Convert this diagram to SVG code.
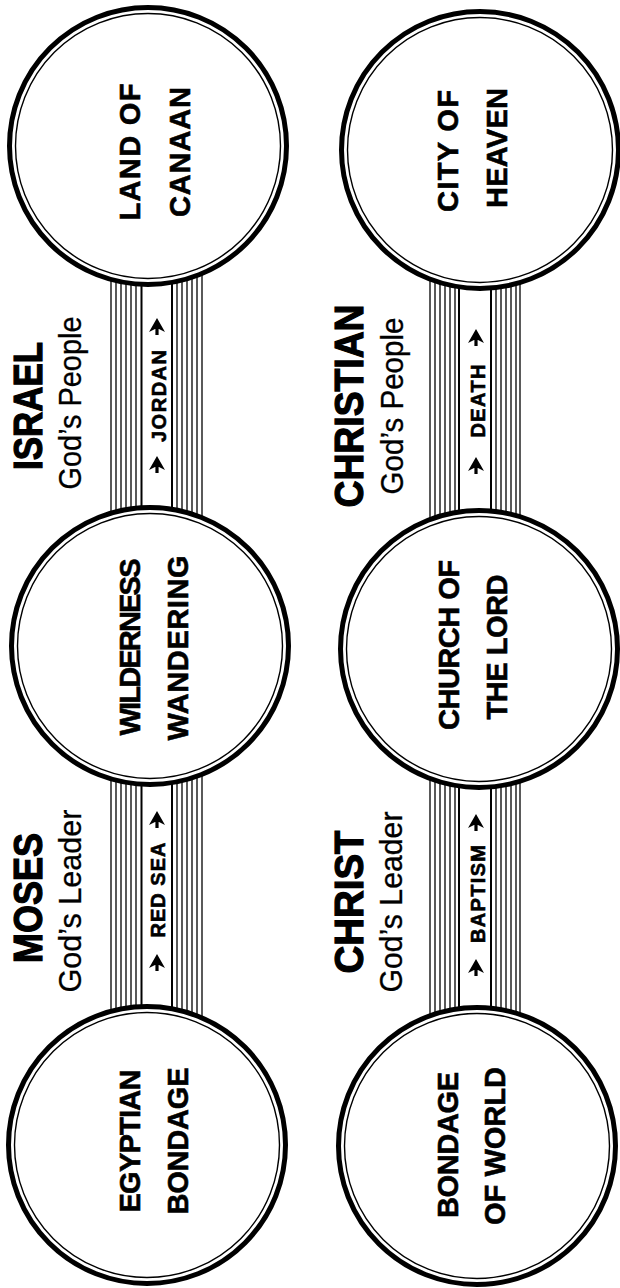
<svg xmlns="http://www.w3.org/2000/svg" width="620" height="1288" viewBox="0 0 620 1288">
<style>
.bg{fill:#fff}
.outer{fill:#fff;stroke:#000;stroke-width:5}
.inner{fill:none;stroke:#000;stroke-width:1.4}
.ln{stroke:#000;stroke-width:1.3}
.edge{stroke:#000;stroke-width:2}
.ct{font-family:"Liberation Sans",Arial,sans-serif;font-weight:bold;font-size:29px;fill:#000;stroke:#000;stroke-width:0.6;text-anchor:middle}
.hd{font-family:"Liberation Sans",Arial,sans-serif;font-weight:bold;font-size:40px;fill:#000;stroke:#000;stroke-width:1.2;text-anchor:middle}
.sub{font-family:"Liberation Sans",Arial,sans-serif;font-weight:normal;font-size:31px;fill:#000;stroke:#000;stroke-width:0.3;text-anchor:middle}
.bl{font-family:"Liberation Sans",Arial,sans-serif;font-weight:bold;font-size:20px;fill:#000;stroke:#000;stroke-width:0.6;text-anchor:middle}
</style>
<defs>
<path id="arr" d="M0,-9 L8,5 L0,1 L-8,5 Z M-1.6,0 H1.6 V8 H-1.6 Z" fill="#000"/>
</defs>
<rect class="bg" x="0" y="0" width="620" height="1288"/>

<g id="connectors">
  <g id="bundle-left">
    <line class="ln" x1="111" y1="220" x2="111" y2="1080"/>
    <line class="ln" x1="116" y1="220" x2="116" y2="1080"/>
    <line class="ln" x1="121" y1="220" x2="121" y2="1080"/>
    <line class="ln" x1="126" y1="220" x2="126" y2="1080"/>
    <line class="ln" x1="131" y1="220" x2="131" y2="1080"/>
    <line class="ln" x1="136" y1="220" x2="136" y2="1080"/>
    <line class="edge" x1="141.5" y1="220" x2="141.5" y2="1080"/>
    <line class="edge" x1="172" y1="220" x2="172" y2="1080"/>
    <line class="ln" x1="177" y1="220" x2="177" y2="1080"/>
    <line class="ln" x1="182" y1="220" x2="182" y2="1080"/>
    <line class="ln" x1="187" y1="220" x2="187" y2="1080"/>
    <line class="ln" x1="192" y1="220" x2="192" y2="1080"/>
    <line class="ln" x1="197" y1="220" x2="197" y2="1080"/>
    <line class="ln" x1="202" y1="220" x2="202" y2="1080"/>
  </g>
  <g id="bundle-right">
    <line class="ln" x1="430" y1="220" x2="430" y2="1080"/>
    <line class="ln" x1="435" y1="220" x2="435" y2="1080"/>
    <line class="ln" x1="440" y1="220" x2="440" y2="1080"/>
    <line class="ln" x1="445" y1="220" x2="445" y2="1080"/>
    <line class="ln" x1="450" y1="220" x2="450" y2="1080"/>
    <line class="ln" x1="455" y1="220" x2="455" y2="1080"/>
    <line class="edge" x1="459" y1="220" x2="459" y2="1080"/>
    <line class="edge" x1="491" y1="220" x2="491" y2="1080"/>
    <line class="ln" x1="496" y1="220" x2="496" y2="1080"/>
    <line class="ln" x1="501" y1="220" x2="501" y2="1080"/>
    <line class="ln" x1="506" y1="220" x2="506" y2="1080"/>
    <line class="ln" x1="511" y1="220" x2="511" y2="1080"/>
    <line class="ln" x1="516" y1="220" x2="516" y2="1080"/>
    <line class="ln" x1="520" y1="220" x2="520" y2="1080"/>
  </g>
  <g id="label-redsea">
    <use href="#arr" x="157" y="820"/>
    <text class="bl" transform="translate(165,890) rotate(-90)" textLength="95" lengthAdjust="spacing">RED SEA</text>
    <use href="#arr" x="157" y="963"/>
  </g>
  <g id="label-jordan">
    <use href="#arr" x="157" y="327"/>
    <text class="bl" transform="translate(166,396) rotate(-90)" textLength="92" lengthAdjust="spacing">JORDAN</text>
    <use href="#arr" x="157" y="465"/>
  </g>
  <g id="label-baptism">
    <use href="#arr" x="476" y="823"/>
    <text class="bl" transform="translate(485,894) rotate(-90)" textLength="98" lengthAdjust="spacing">BAPTISM</text>
    <use href="#arr" x="476" y="968"/>
  </g>
  <g id="label-death">
    <use href="#arr" x="476" y="338"/>
    <text class="bl" transform="translate(485,401) rotate(-90)" textLength="73" lengthAdjust="spacing">DEATH</text>
    <use href="#arr" x="476" y="466"/>
  </g>
</g>

<g id="node-canaan">
  <circle class="outer" cx="148" cy="146" r="138.5"/>
  <circle class="inner" cx="148" cy="146" r="132.5"/>
  <text class="ct" transform="translate(140,152) rotate(-90)" textLength="137" lengthAdjust="spacing">LAND OF</text>
  <text class="ct" transform="translate(190,152) rotate(-90)" textLength="130" lengthAdjust="spacing">CANAAN</text>
</g>
<g id="node-wilderness">
  <circle class="outer" cx="150" cy="646" r="138.5"/>
  <circle class="inner" cx="150" cy="646" r="132.5"/>
  <text class="ct" transform="translate(140,647) rotate(-90)" textLength="177" lengthAdjust="spacing">WILDERNESS</text>
  <text class="ct" transform="translate(188,648) rotate(-90)" textLength="185" lengthAdjust="spacing">WANDERING</text>
</g>
<g id="node-egypt">
  <circle class="outer" cx="147" cy="1145" r="138.5"/>
  <circle class="inner" cx="147" cy="1145" r="132.5"/>
  <text class="ct" transform="translate(140,1141) rotate(-90)" textLength="143" lengthAdjust="spacing">EGYPTIAN</text>
  <text class="ct" transform="translate(188,1141) rotate(-90)" textLength="147" lengthAdjust="spacing">BONDAGE</text>
</g>
<g id="node-heaven">
  <circle class="outer" cx="480" cy="150" r="138.5"/>
  <circle class="inner" cx="480" cy="150" r="132.5"/>
  <text class="ct" transform="translate(458,151) rotate(-90)" textLength="122" lengthAdjust="spacing">CITY OF</text>
  <text class="ct" transform="translate(507,148) rotate(-90)" textLength="120" lengthAdjust="spacing">HEAVEN</text>
</g>
<g id="node-church">
  <circle class="outer" cx="479" cy="649" r="138.5"/>
  <circle class="inner" cx="479" cy="649" r="132.5"/>
  <text class="ct" transform="translate(459,645) rotate(-90)" textLength="170" lengthAdjust="spacing">CHURCH OF</text>
  <text class="ct" transform="translate(507,647) rotate(-90)" textLength="145" lengthAdjust="spacing">THE LORD</text>
</g>
<g id="node-world">
  <circle class="outer" cx="477" cy="1146" r="138.5"/>
  <circle class="inner" cx="477" cy="1146" r="132.5"/>
  <text class="ct" transform="translate(458,1145) rotate(-90)" textLength="146" lengthAdjust="spacing">BONDAGE</text>
  <text class="ct" transform="translate(505,1146) rotate(-90)" textLength="158" lengthAdjust="spacing">OF WORLD</text>
</g>

<g id="title-moses">
  <text class="hd" transform="translate(42,898) rotate(-90)" textLength="130" lengthAdjust="spacingAndGlyphs">MOSES</text>
  <text class="sub" transform="translate(81,901) rotate(-90)" textLength="183" lengthAdjust="spacingAndGlyphs">God’s Leader</text>
</g>
<g id="title-israel">
  <text class="hd" transform="translate(42,406) rotate(-90)" textLength="128" lengthAdjust="spacingAndGlyphs">ISRAEL</text>
  <text class="sub" transform="translate(81,403) rotate(-90)" textLength="173" lengthAdjust="spacingAndGlyphs">God’s People</text>
</g>
<g id="title-christ">
  <text class="hd" transform="translate(363,902) rotate(-90)" textLength="143" lengthAdjust="spacingAndGlyphs">CHRIST</text>
  <text class="sub" transform="translate(402,902) rotate(-90)" textLength="181" lengthAdjust="spacingAndGlyphs">God’s Leader</text>
</g>
<g id="title-christian">
  <text class="hd" transform="translate(363,406) rotate(-90)" textLength="203" lengthAdjust="spacingAndGlyphs">CHRISTIAN</text>
  <text class="sub" transform="translate(403,406) rotate(-90)" textLength="177" lengthAdjust="spacingAndGlyphs">God’s People</text>
</g>
</svg>
